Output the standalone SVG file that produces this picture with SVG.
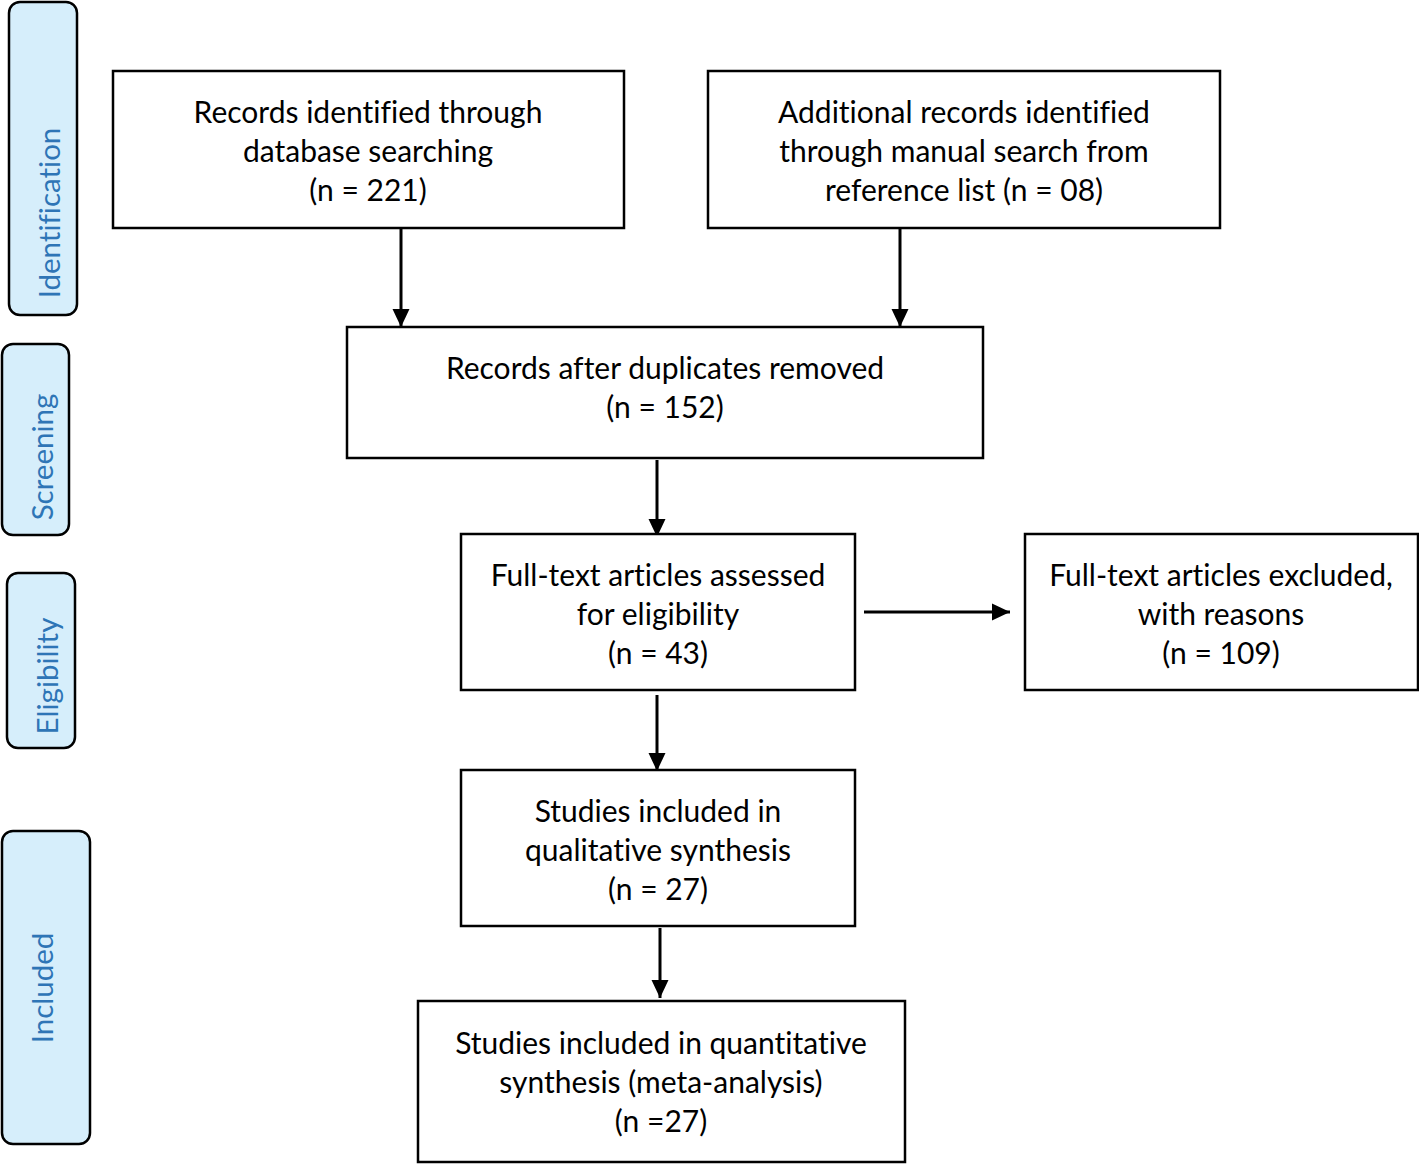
<svg xmlns="http://www.w3.org/2000/svg" width="1419" height="1164" viewBox="0 0 1419 1164">
<style>
.box{fill:#fff;stroke:#000;stroke-width:2.5}
.tab{fill:#d6eefb;stroke:#000;stroke-width:2.5}
.t{font-family:Lato,"Open Sans",sans-serif;font-size:30px;fill:#000;text-anchor:middle;font-variant-ligatures:none}
.tt{font-family:Lato,"Open Sans",sans-serif;font-size:29.5px;fill:#2e75b6;text-anchor:middle;font-variant-ligatures:none}
.c{stroke:#000;stroke-width:3;fill:none;marker-end:url(#ah)}
</style>
<defs>
<marker id="ah" markerUnits="userSpaceOnUse" markerWidth="20" markerHeight="20" viewBox="0 0 20 20" refX="18" refY="10" orient="auto">
<path d="M0,1.5 L18,10 L0,18.5 Z" fill="#000"/>
</marker>
</defs>
<rect width="1419" height="1164" fill="#fff"/>
<g id="tab-identification"><rect class="tab" x="9" y="2" width="68" height="313" rx="11"/><text class="tt" transform="translate(60,213) rotate(-90)">Identification</text></g>
<g id="tab-screening"><rect class="tab" x="2" y="344" width="67" height="191" rx="11"/><text class="tt" transform="translate(53,457) rotate(-90)">Screening</text></g>
<g id="tab-eligibility"><rect class="tab" x="7" y="573" width="68" height="175" rx="11"/><text class="tt" transform="translate(58,676) rotate(-90)">Eligibility</text></g>
<g id="tab-included"><rect class="tab" x="2" y="831" width="88" height="313" rx="11"/><text class="tt" transform="translate(53,988) rotate(-90)">Included</text></g>
<g id="connectors">
<line class="c" x1="401" y1="224" x2="401" y2="327"/>
<line class="c" x1="900" y1="227" x2="900" y2="327"/>
<line class="c" x1="657" y1="460" x2="657" y2="537"/>
<line class="c" x1="864" y1="612" x2="1010" y2="612"/>
<line class="c" x1="657" y1="695" x2="657" y2="771"/>
<line class="c" x1="660" y1="928" x2="660" y2="998"/>
</g>
<g id="n1"><rect class="box" x="113" y="71" width="511" height="157"/>
<text class="t" x="368" y="123">Records identified through</text><text class="t" x="368" y="162">database searching</text><text class="t" x="368" y="201">(n = 221)</text></g>
<g id="n2"><rect class="box" x="708" y="71" width="512" height="157"/>
<text class="t" x="964" y="123">Additional records identified</text><text class="t" x="964" y="162">through manual search from</text><text class="t" x="964" y="201">reference list (n = 08)</text></g>
<g id="n3"><rect class="box" x="347" y="327" width="636" height="131"/>
<text class="t" x="665" y="379">Records after duplicates removed</text><text class="t" x="665" y="418">(n = 152)</text></g>
<g id="n4"><rect class="box" x="461" y="534" width="394" height="156"/>
<text class="t" x="658" y="586">Full-text articles assessed</text><text class="t" x="658" y="625">for eligibility</text><text class="t" x="658" y="664">(n = 43)</text></g>
<g id="n5"><rect class="box" x="1025" y="534" width="393" height="156"/>
<text class="t" x="1221" y="586">Full-text articles excluded,</text><text class="t" x="1221" y="625">with reasons</text><text class="t" x="1221" y="664">(n = 109)</text></g>
<g id="n6"><rect class="box" x="461" y="770" width="394" height="156"/>
<text class="t" x="658" y="822">Studies included in</text><text class="t" x="658" y="861">qualitative synthesis</text><text class="t" x="658" y="900">(n = 27)</text></g>
<g id="n7"><rect class="box" x="418" y="1001" width="487" height="161"/>
<text class="t" x="661" y="1054">Studies included in quantitative</text><text class="t" x="661" y="1093">synthesis (meta-analysis)</text><text class="t" x="661" y="1132">(n =27)</text></g>
</svg>
